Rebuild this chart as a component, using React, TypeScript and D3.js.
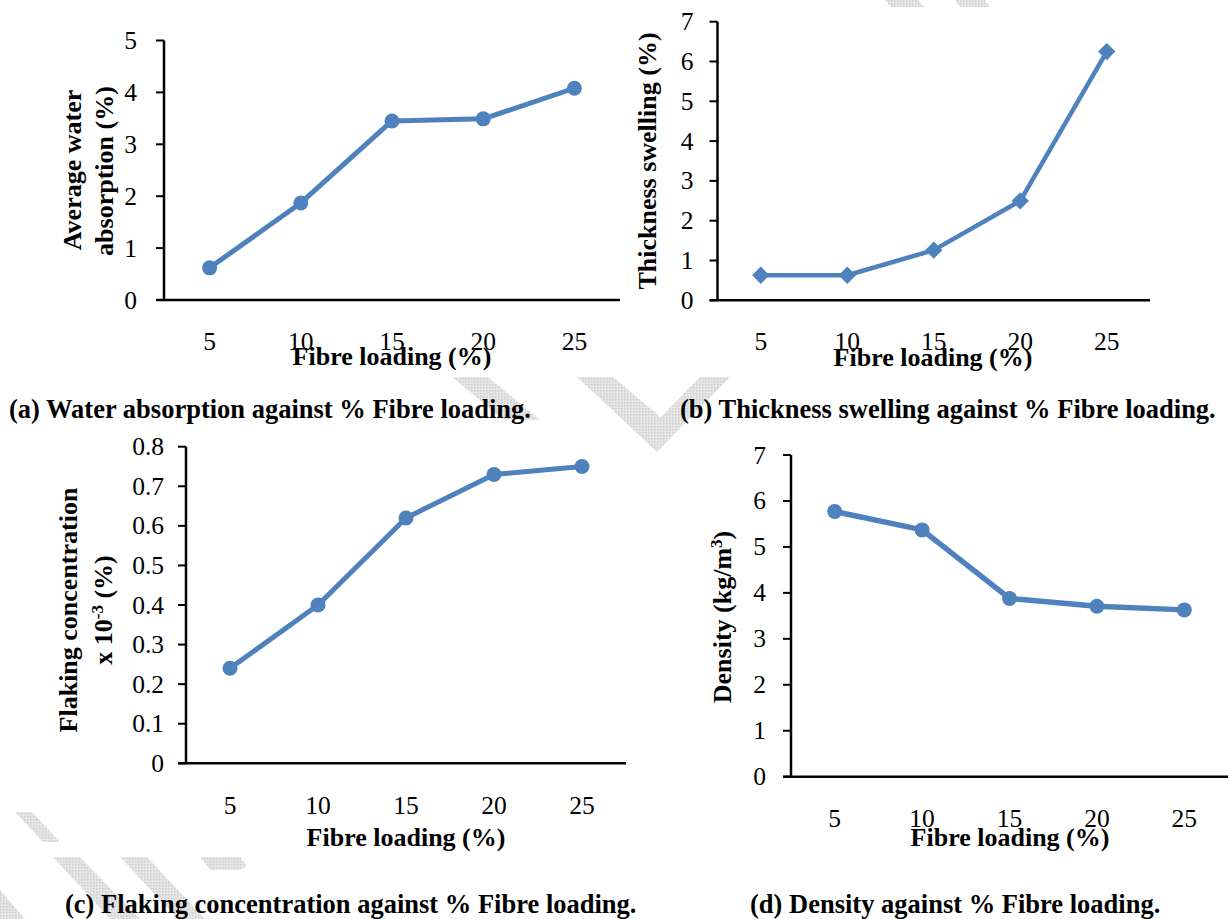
import React from "react";
import * as d3 from "d3";

// ---- data ----
const fibreLoading = ["5", "10", "15", "20", "25"];
const waterAbsorption = [0.62, 1.87, 3.45, 3.49, 4.08];
const thicknessSwelling = [0.63, 0.63, 1.26, 2.5, 6.25];
const flakingConcentration = [0.24, 0.4, 0.62, 0.73, 0.75];
const density = [5.77, 5.37, 3.88, 3.71, 3.63];

const ticksA = [0, 1, 2, 3, 4, 5];
const ticksB = [0, 1, 2, 3, 4, 5, 6, 7];
const ticksC = [0, 0.1, 0.2, 0.3, 0.4, 0.5, 0.6, 0.7, 0.8];
const ticksD = [0, 1, 2, 3, 4, 5, 6, 7];

const xTitle = "Fibre loading (%)";
const captionA = "(a) Water absorption against % Fibre loading.";
const captionB = "(b) Thickness swelling against % Fibre loading.";
const captionC = "(c) Flaking concentration against % Fibre loading.";
const captionD = "(d) Density against % Fibre loading.";

const BLUE = "#4f81bd";
const FONT = "'Liberation Serif', 'Times New Roman', serif";
const TICK_FS = 25.5;

type Panel = {
  values: number[];
  ticks: number[];
  fmt: (v: number) => string;
  axisX: number;
  axisEnd: number;
  y0: number;
  yTop: number;
  labelGap: number;
  xLabelY: number;
  xTitleX: number;
  xTitleY: number;
  marker: "circle" | "diamond";
  lineW: number;
};

function ChartPanel({ p }: { p: Panel }) {
  const x = d3.scalePoint<string>().domain(fibreLoading).range([p.axisX, p.axisEnd]).padding(0.5);
  const y = d3.scaleLinear().domain([0, p.ticks[p.ticks.length - 1]]).range([p.y0, p.yTop]);
  const line = d3
    .line<number>()
    .x((_, i) => x(fibreLoading[i]) as number)
    .y((v) => y(v));
  const diamond = d3.symbol().type(d3.symbolSquare).size(150)();
  return (
    <g>
      {p.ticks.map((t) => (
        <g key={t}>
          <line x1={p.axisX - 8} x2={p.axisX} y1={y(t)} y2={y(t)} stroke="#000" strokeWidth={2} />
          <text
            x={p.axisX - p.labelGap}
            y={y(t) + 8.5}
            textAnchor="end"
            fontSize={TICK_FS}
            fontFamily={FONT}
            fill="#000"
          >
            {p.fmt(t)}
          </text>
        </g>
      ))}
      <line x1={p.axisX} x2={p.axisX} y1={p.yTop} y2={p.y0} stroke="#000" strokeWidth={2.5} />
      <line x1={p.axisX - 8} x2={p.axisEnd} y1={p.y0} y2={p.y0} stroke="#000" strokeWidth={2.5} />
      {fibreLoading.map((c) => (
        <text
          key={c}
          x={x(c)}
          y={p.xLabelY}
          textAnchor="middle"
          fontSize={TICK_FS}
          fontFamily={FONT}
          fill="#000"
        >
          {c}
        </text>
      ))}
      <path d={line(p.values) || ""} fill="none" stroke={BLUE} strokeWidth={p.lineW} strokeLinejoin="round" />
      {p.values.map((v, i) =>
        p.marker === "circle" ? (
          <circle key={i} cx={x(fibreLoading[i])} cy={y(v)} r={7.5} fill={BLUE} />
        ) : (
          <path
            key={i}
            d={diamond || ""}
            transform={`translate(${x(fibreLoading[i])},${y(v)}) rotate(45)`}
            fill={BLUE}
          />
        )
      )}
      <text
        x={p.xTitleX}
        y={p.xTitleY}
        textAnchor="middle"
        fontSize={26}
        fontWeight="bold"
        fontFamily={FONT}
        fill="#000"
      >
        {xTitle}
      </text>
    </g>
  );
}

const panelA: Panel = {
  values: waterAbsorption,
  ticks: ticksA,
  fmt: (v) => d3.format("d")(v),
  axisX: 164,
  axisEnd: 620,
  y0: 300,
  yTop: 40.5,
  labelGap: 27,
  xLabelY: 350,
  xTitleX: 392,
  xTitleY: 365,
  marker: "circle",
  lineW: 5,
};
const panelB: Panel = {
  values: thicknessSwelling,
  ticks: ticksB,
  fmt: (v) => d3.format("d")(v),
  axisX: 717.5,
  axisEnd: 1150,
  y0: 300.3,
  yTop: 21.7,
  labelGap: 24,
  xLabelY: 350,
  xTitleX: 933,
  xTitleY: 366,
  marker: "diamond",
  lineW: 4.5,
};
const panelC: Panel = {
  values: flakingConcentration,
  ticks: ticksC,
  fmt: (v) => (v === 0 ? "0" : d3.format(".1f")(v)),
  axisX: 186,
  axisEnd: 626,
  y0: 763.3,
  yTop: 446.7,
  labelGap: 22,
  xLabelY: 814,
  xTitleX: 406,
  xTitleY: 846,
  marker: "circle",
  lineW: 5,
};
const panelD: Panel = {
  values: density,
  ticks: ticksD,
  fmt: (v) => d3.format("d")(v),
  axisX: 791,
  axisEnd: 1228,
  y0: 776.7,
  yTop: 455,
  labelGap: 25,
  xLabelY: 827,
  xTitleX: 1010,
  xTitleY: 846,
  marker: "circle",
  lineW: 5.5,
};

function RotTitle({ x, y, children }: { x: number; y: number; children: React.ReactNode }) {
  return (
    <text
      transform={`translate(${x},${y}) rotate(-90)`}
      textAnchor="middle"
      fontSize={26}
      fontWeight="bold"
      fontFamily={FONT}
      fill="#000"
    >
      {children}
    </text>
  );
}

function Caption({ x, y, children }: { x: number; y: number; children: React.ReactNode }) {
  return (
    <text x={x} y={y} fontSize={26.5} fontWeight="bold" fontFamily={FONT} fill="#000">
      {children}
    </text>
  );
}

// light watermark shapes (decorative background)
const watermarkShapes: [number, number][][] = [
  [[452, 377], [488, 377], [540, 420], [504, 420]],
  [[577, 377], [613, 377], [657, 414], [660, 418], [700, 377], [730, 377], [657, 452], [640, 436]],
  [[885, 0], [918, 0], [924, 7], [891, 7]],
  [[955, 0], [985, 0], [990, 7], [960, 7]],
  [[15, 812], [32, 812], [60, 842], [43, 842]],
  [[53, 857], [80, 857], [140, 919], [110, 919]],
  [[120, 857], [147, 857], [205, 919], [178, 919]],
  [[200, 857], [240, 857], [247, 866], [240, 870], [210, 870]],
  [[0, 890], [0, 919], [25, 919]],
];

export default function App() {
  return (
    <svg width={1230} height={919} style={{ display: "block", position: "absolute", left: 0, top: 0, background: "#fff" }}>
      <defs>
        <pattern id="hatch" width={3} height={3} patternUnits="userSpaceOnUse">
          <rect width={3} height={3} fill="#e6e6e6" />
          <rect width={1.5} height={1.5} fill="#cfcfcf" />
        </pattern>
      </defs>
      <rect width={1230} height={919} fill="#fff" />
      {watermarkShapes.map((s, i) => (
        <polygon key={i} points={s.map((pt) => pt.join(",")).join(" ")} fill="url(#hatch)" />
      ))}

      <ChartPanel p={panelA} />
      <ChartPanel p={panelB} />
      <ChartPanel p={panelC} />
      <ChartPanel p={panelD} />

      <RotTitle x={81} y={170}>Average water</RotTitle>
      <RotTitle x={113} y={171}>absorption (%)</RotTitle>
      <RotTitle x={656} y={161}>Thickness swelling (%)</RotTitle>
      <RotTitle x={77} y={610}>Flaking concentration</RotTitle>
      <RotTitle x={112} y={610}>
        x 10
        <tspan fontSize={17} dy={-9}>-3</tspan>
        <tspan dy={9}> (%)</tspan>
      </RotTitle>
      <RotTitle x={731} y={617}>
        Density (kg/m
        <tspan fontSize={17} dy={-9}>3</tspan>
        <tspan dy={9}>)</tspan>
      </RotTitle>

      <Caption x={9} y={418}>{captionA}</Caption>
      <Caption x={680} y={418}>{captionB}</Caption>
      <Caption x={65} y={913}>{captionC}</Caption>
      <Caption x={750} y={913}>{captionD}</Caption>
    </svg>
  );
}
